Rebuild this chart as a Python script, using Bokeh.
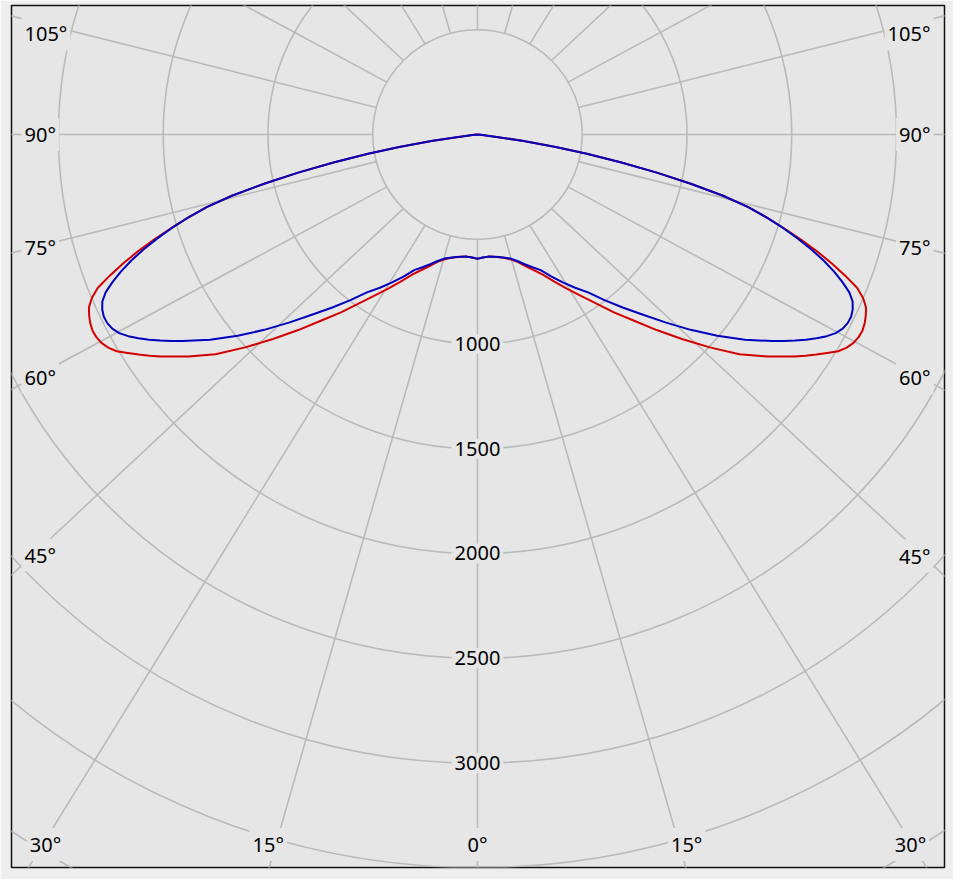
import numpy as np
from bokeh.plotting import figure
from bokeh.models import Range1d, ColumnDataSource
from bokeh.core.properties import value
from bokeh.embed import file_html
from bokeh.resources import INLINE

# ---------------- data (luminous intensity, cd) ----------------
gamma_deg = [0, 2.5, 5, 7.5, 10, 12.5, 15, 17.5, 20, 22.5, 25, 27.5, 30, 32.5,
             35, 37.5, 40, 42.5, 45, 47.5, 50, 52.5, 55,
             56, 57, 58, 59, 60, 61, 62, 63, 64, 65, 66, 67, 68, 69, 70,
             71, 72, 73, 74, 75, 76, 77, 78, 79, 80, 81, 82, 83, 84, 85,
             86, 87, 88, 89, 90]
red_cd = [593, 588, 585, 588, 595, 604, 618, 637, 668, 700, 738, 790, 848, 910,
          982, 1070, 1159, 1266, 1380, 1504, 1632, 1740, 1847,
          1888, 1928, 1968, 2009, 2035, 2052, 2060, 2062, 2056, 2045, 2030, 2000, 1955, 1880, 1800,
          1715, 1625, 1528, 1437, 1338, 1208, 1045, 875, 700, 530, 378, 222, 92, 15, 0,
          0, 0, 0, 0, 0]
blue_cd = [593, 588, 585, 588, 594, 602, 613, 633, 659, 686, 714, 765, 815, 867,
           920, 996, 1078, 1165, 1268, 1380, 1494, 1609, 1719,
           1763, 1806, 1848, 1888, 1925, 1955, 1974, 1983, 1984, 1976, 1960, 1928, 1878, 1822, 1758,
           1686, 1608, 1525, 1435, 1338, 1208, 1045, 875, 700, 530, 378, 222, 92, 15, 0,
           0, 0, 0, 0, 0]

ring_values = [500, 1000, 1500, 2000, 2500, 3000, 3500, 4000]
ring_label_values = [1000, 1500, 2000, 2500, 3000]
ring_labels = ["1000", "1500", "2000", "2500", "3000"]
ray_angles = list(range(0, 360, 15))
angle_label_values = [0, 15, 30, 45, 60, 75, 90, 105]

# ---------------- geometry / style ----------------
PX = 0.2095            # screen px per cd
X0, X1 = -2224, 2229   # frame in cd
Y0, Y1 = -3499, 616
K = 1.065              # horizontal stretch of the ray grid
GRID = "#bababa"
BG = "#e6e6e6"
FONT = value("Noto Sans")
FS = "20px"

p = figure(width=953, height=879, x_range=Range1d(X0, X1), y_range=Range1d(Y0, Y1),
           output_backend="svg", toolbar_location=None,
           x_axis_type=None, y_axis_type=None,
           min_border_left=11, min_border_right=9, min_border_top=5, min_border_bottom=12,
           background_fill_color=BG, border_fill_color="#eeeeee",
           outline_line_color="#111111", outline_line_width=1.5)

# rings
p.circle(x=[0] * len(ring_values), y=[0] * len(ring_values), radius=ring_values,
         fill_color=None, line_color=GRID, line_width=1.6)

# rays
xs, ys = [], []
for a in ray_angles:
    g = np.radians(a)
    r0 = ring_values[0]
    R = 8000
    xs.append([r0 * np.sin(g), K * R * np.sin(g)])
    ys.append([-r0 * np.cos(g), -R * np.cos(g)])
p.multi_line(xs=xs, ys=ys, line_color=GRID, line_width=1.6)

# curves (mirrored about the 0 deg axis)
g = np.radians(np.array(gamma_deg, dtype=float))
full_g = np.concatenate([-g[::-1], g[1:]])


def full(vals):
    v = np.array(vals, dtype=float)
    return np.concatenate([v[::-1], v[1:]])


for vals, col in [(red_cd, "#d40000"), (blue_cd, "#0000c0")]:
    I = full(vals)
    p.line(I * np.sin(full_g), -I * np.cos(full_g), line_color=col, line_width=2,
           line_join="round")

# intensity labels
src = ColumnDataSource(dict(x=[0] * len(ring_label_values),
                            y=[-v for v in ring_label_values], t=ring_labels))
p.text(x="x", y="y", text="t", source=src, text_font=FONT, text_font_size=FS,
       text_color="#000000", text_align="center", text_baseline="middle",
       background_fill_color=BG, padding=3)

# angle labels
lx, ly, lt, la = [], [], [], []
inset_x = 18 / PX
for a in angle_label_values:
    gr = np.radians(a)
    for side in (-1, 1):
        if a == 0 and side == -1:
            continue
        dx, dy = side * K * np.sin(gr), -np.cos(gr)
        txt = f"{a}\u00b0"
        if a <= 30:
            t = -Y0 / np.cos(gr)
            x = dx * t
            x = min(max(x, X0 + 34 / PX), X1 - 34 / PX)
            lx.append(x); ly.append(Y0 + 23 / PX); lt.append(txt); la.append("center")
        else:
            xt = (X1 - inset_x) if side > 0 else (X0 + inset_x)
            t = abs(xt) / abs(dx)
            y = min(dy * t, Y1 - 28.5 / PX)
            if side < 0:
                lx.append(X0 + 10 / PX); la.append("left")
            else:
                lx.append(X1 - 11 / PX); la.append("right")
            ly.append(y); lt.append(txt)

asrc = ColumnDataSource(dict(x=lx, y=ly, t=lt, a=la))
p.text(x="x", y="y", text="t", source=asrc, text_font=FONT, text_font_size=FS,
       text_color="#000000", text_align="a", text_baseline="middle",
       background_fill_color=BG, padding=3)

open("out.html", "w").write(file_html(p, INLINE))
